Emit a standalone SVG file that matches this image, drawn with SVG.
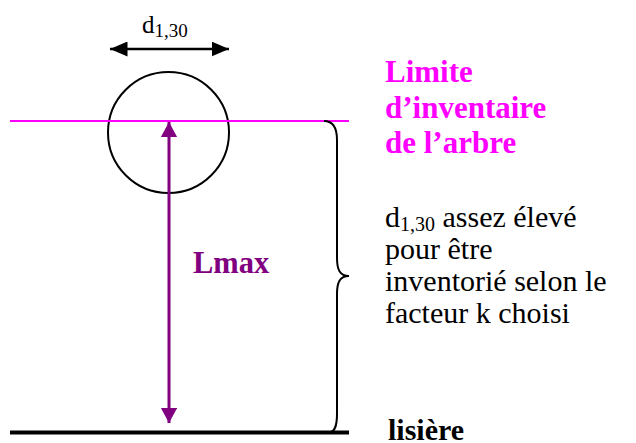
<svg xmlns="http://www.w3.org/2000/svg" width="636" height="443" viewBox="0 0 636 443">
<style>
.t{font-family:"Liberation Serif","Times New Roman",serif}
.pk{fill:#ff00ff;font-weight:bold;font-size:31px}
.bk{fill:#000;font-size:30px}
</style>
<defs>
<marker id="ap" markerWidth="6" markerHeight="6" refX="5" refY="2.7" orient="auto-start-reverse" markerUnits="strokeWidth"><path d="M0,0 L5,2.7 L0,5.4 Z" fill="#800080"/></marker>
<marker id="ab" markerWidth="8" markerHeight="6" refX="7" refY="3" orient="auto-start-reverse" markerUnits="strokeWidth"><path d="M0,0 L7,3 L0,6 Z" fill="#000"/></marker>
</defs>
<rect width="636" height="443" fill="#fff"/>
<g id="tree">
<circle cx="168.5" cy="132.5" r="60.5" fill="none" stroke="#000" stroke-width="2"/>
</g>
<g id="limit-line"><line x1="10" y1="121" x2="349" y2="121" stroke="#ff00ff" stroke-width="2"/></g>
<g id="ground"><line x1="10" y1="432.5" x2="349" y2="432.5" stroke="#000" stroke-width="4"/></g>
<g id="connectors">
<line x1="110" y1="49" x2="229" y2="49" stroke="#000" stroke-width="2.5" marker-start="url(#ab)" marker-end="url(#ab)"/>
<line x1="169" y1="122" x2="169" y2="423" stroke="#800080" stroke-width="3" marker-start="url(#ap)" marker-end="url(#ap)"/>
<path d="M324,121 C333,121 337,128 337,140 L337,258 C337,270 340,276 349,276 C340,276 337,282 337,294 L337,414 C337,426 334,432 330,432" fill="none" stroke="#000" stroke-width="2"/>
</g>
<g id="labels" font-family="Liberation Serif">
<g id="d130-top"><text class="t" x="142" y="33" font-family="Liberation Serif" font-size="25">d<tspan dy="4" font-size="19">1,30</tspan></text></g>
<g id="lmax"><text class="t" x="193" y="273" font-family="Liberation Serif" fill="#800080" font-weight="bold" font-size="30.5">Lmax</text></g>
<g id="limite">
<text class="t pk" x="385" y="82" font-family="Liberation Serif">Limite</text>
<text class="t pk" x="385" y="117.5" font-family="Liberation Serif">d’inventaire</text>
<text class="t pk" x="385" y="153" font-family="Liberation Serif">de l’arbre</text>
</g>
<g id="note">
<text class="t bk" x="385" y="227" font-family="Liberation Serif">d<tspan dy="4" font-size="20">1,30</tspan><tspan dy="-4"> assez élevé</tspan></text>
<text class="t bk" x="385" y="259" font-family="Liberation Serif">pour être</text>
<text class="t bk" x="385" y="291" font-family="Liberation Serif">inventorié selon le</text>
<text class="t bk" x="385" y="323" font-family="Liberation Serif">facteur k choisi</text>
</g>
<g id="lisiere"><text class="t" x="388" y="440" font-family="Liberation Serif" font-weight="bold" font-size="30">lisière</text></g>
</g>
</svg>
